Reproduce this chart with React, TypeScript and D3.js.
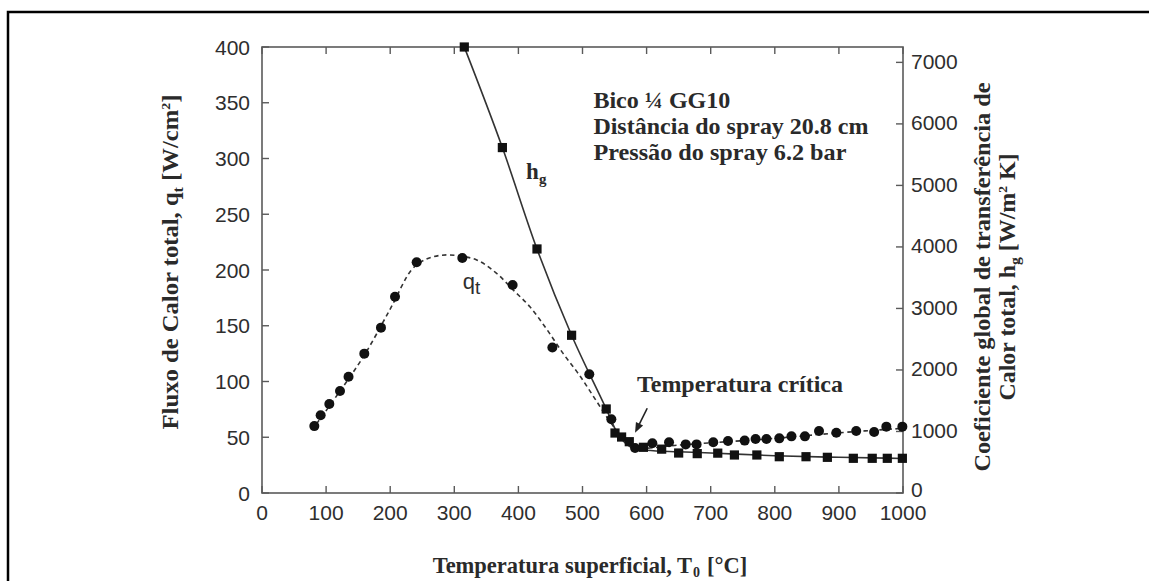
import React from "react";
import * as d3 from "d3";

// ---- data ----
const xTicks = [0, 100, 200, 300, 400, 500, 600, 700, 800, 900, 1000];
const yLeftTicks = [0, 50, 100, 150, 200, 250, 300, 350, 400];
const yRightTicks = [0, 1000, 2000, 3000, 4000, 5000, 6000, 7000];

// q_t measured points (circles, left axis)
const qT = [81.6, 91.5, 105, 121.7, 135, 159.6, 185.6, 207.5, 241.3, 312.5, 391, 453, 510.6, 545, 582, 609, 635, 661, 678, 704, 727, 753, 770, 787, 807, 826, 847, 869, 896, 927, 955, 974, 999];
const qV = [60, 69.7, 79.8, 91.5, 104.3, 125, 148.3, 176, 207, 210.8, 186.5, 130.5, 106.5, 66.2, 40.3, 44.6, 45.5, 43.6, 43.6, 45.5, 46.6, 47, 48.4, 48.4, 49, 50.8, 50.8, 55.6, 54, 55.6, 54.7, 59.5, 59.5];

// q_t fitted dashed curve
const qFitT = [85, 120, 160, 200, 233, 250, 268, 293, 335, 366, 392, 418, 444, 470, 496, 520, 543, 565, 582, 650, 700, 800, 900, 1000];
const qFitV = [62, 90, 124, 165, 200, 208, 212, 213.5, 209, 197, 182, 167, 147, 125, 105, 84, 64, 48, 41, 43, 45, 49, 54, 58];

// h_g measured points (squares, right axis)
const hT = [315.6, 375, 429, 483, 537, 550.7, 561, 573, 595, 623.5, 650, 679, 711, 737, 772, 807, 848.7, 882, 922.5, 952, 975.5, 999];
const hV = [7250, 5615, 3967, 2564, 1366, 975, 910, 834, 743, 713, 650, 640, 648, 618, 618, 590, 590, 580, 564, 564, 564, 564];

// h_g fitted solid line
const hFitT = [315.6, 375, 429, 483, 537, 555, 568, 582, 600, 650, 700, 800, 900, 1000];
const hFitV = [7250, 5615, 3967, 2564, 1366, 960, 800, 720, 695, 670, 650, 606, 580, 562];

const infoLines = ["Bico ¼ GG10", "Distância do spray 20.8 cm", "Pressão do spray 6.2 bar"];
const infoWidths = [137, 275, 253];

// ---- layout ----
const W = 1149, H = 581;
const L = 262, R = 903, T = 47, B = 493;

const x = d3.scaleLinear().domain([0, 1000]).range([L, R]);
const yL = d3.scaleLinear().domain([0, 400]).range([B, T]);
const yR = d3.scaleLinear().domain([0, 7250]).range([B, T]);

const AX = "#5a5a5a";
const TXT = "#2e2e2e";
const STXT = "#2a2a2a";
const SERIF = "'Liberation Serif', 'Times New Roman', serif";
const SANS = "'Liberation Sans', Arial, Helvetica, sans-serif";

export default function App() {
  const qLine = d3.line<number>().x((_, i) => x(qFitT[i])).y((d) => yL(d)).curve(d3.curveCatmullRom.alpha(0.5))(qFitV) || "";
  const hLine = d3.line<number>().x((_, i) => x(hFitT[i])).y((d) => yR(d)).curve(d3.curveMonotoneX)(hFitV) || "";
  const tick = 7;

  // annotation arrow (in data units, left axis)
  const a0 = [x(601), yL(76)];
  const a1 = [x(582), yL(54)];
  const ang = Math.atan2(a1[1] - a0[1], a1[0] - a0[0]);
  const hl = 10, hw = 4;
  const head = [
    [a1[0], a1[1]],
    [a1[0] - hl * Math.cos(ang) + hw * Math.sin(ang), a1[1] - hl * Math.sin(ang) - hw * Math.cos(ang)],
    [a1[0] - hl * Math.cos(ang) - hw * Math.sin(ang), a1[1] - hl * Math.sin(ang) + hw * Math.cos(ang)],
  ];

  return (
    <svg width={W} height={H} style={{ position: "absolute", left: 0, top: 0, background: "#fff" }}>
      {/* outer frame */}
      <rect x={8} y={12} width={W + 40} height={H + 40} fill="none" stroke="#000" strokeWidth={2.5} />

      {/* plot frame */}
      <rect x={L} y={T} width={R - L} height={B - T} fill="none" stroke={AX} strokeWidth={1.6} />

      {/* x ticks bottom & top */}
      {xTicks.map((v) => (
        <g key={"x" + v}>
          <line x1={x(v)} x2={x(v)} y1={B} y2={B - tick} stroke={AX} strokeWidth={1.4} />
          <line x1={x(v)} x2={x(v)} y1={T} y2={T + tick} stroke={AX} strokeWidth={1.4} />
          <text x={x(v)} y={B + 27} textAnchor="middle" fontFamily={SANS} fontSize={21} fill={TXT}>{v}</text>
        </g>
      ))}
      {/* left ticks */}
      {yLeftTicks.map((v) => (
        <g key={"l" + v}>
          <line x1={L} x2={L + tick} y1={yL(v)} y2={yL(v)} stroke={AX} strokeWidth={1.4} />
          <text x={L - 12} y={yL(v)} dy="0.36em" textAnchor="end" fontFamily={SANS} fontSize={21} fill={TXT}>{v}</text>
        </g>
      ))}
      {/* right ticks */}
      {yRightTicks.map((v) => (
        <g key={"r" + v}>
          <line x1={R} x2={R - tick} y1={yR(v)} y2={yR(v)} stroke={AX} strokeWidth={1.4} />
          <text x={R + 8} y={yR(v)} dy={v === 0 ? "0.2em" : "0.3em"} textAnchor="start" fontFamily={SANS} fontSize={21} fill={TXT}>{v}</text>
        </g>
      ))}

      {/* curves */}
      <path d={qLine} fill="none" stroke="#333" strokeWidth={1.6} strokeDasharray="4.5,3.5" />
      <path d={hLine} fill="none" stroke="#333" strokeWidth={1.6} />

      {/* markers */}
      {qT.map((t, i) => (
        <circle key={"q" + i} cx={x(t)} cy={yL(qV[i])} r={5} fill="#111" />
      ))}
      {hT.map((t, i) => (
        <rect key={"h" + i} x={x(t) - 4.6} y={yR(hV[i]) - 4.6} width={9.2} height={9.2} fill="#111" />
      ))}

      {/* series labels */}
      <text x={x(412)} y={yR(5100)} fontFamily={SERIF} fontWeight="bold" fontSize={23} fill={STXT}>
        h<tspan dy={5} fontSize={15}>g</tspan>
      </text>
      <text x={x(313)} y={yL(183)} fontFamily={SANS} fontSize={22} fill={TXT}>
        q<tspan dy={5} fontSize={19}>t</tspan>
      </text>

      {/* info block */}
      {infoLines.map((s, i) => (
        <text key={"info" + i} x={x(517)} y={yL(345.3) + i * 26} fontFamily={SERIF} fontWeight="bold" fontSize={22.5} fill={STXT}
          textLength={infoWidths[i]} lengthAdjust="spacingAndGlyphs">{s}</text>
      ))}

      {/* critical temperature annotation */}
      <text x={x(585)} y={yL(90.5)} fontFamily={SERIF} fontWeight="bold" fontSize={23} fill={STXT} textLength={206} lengthAdjust="spacingAndGlyphs">Temperatura crítica</text>
      <line x1={a0[0]} y1={a0[1]} x2={a1[0] - 6 * Math.cos(ang)} y2={a1[1] - 6 * Math.sin(ang)} stroke="#222" strokeWidth={1.6} />
      <polygon points={head.map((p) => p.join(",")).join(" ")} fill="#222" />

      {/* axis titles */}
      <text transform={`translate(178,262) rotate(-90)`} textAnchor="middle" fontFamily={SERIF} fontWeight="bold" fontSize={23} fill={STXT}
        textLength={335} lengthAdjust="spacingAndGlyphs">
        Fluxo de Calor total, q<tspan dy={5} fontSize={15}>t</tspan><tspan dy={-5}> [W/cm</tspan><tspan dy={-8} fontSize={13}>2</tspan><tspan dy={8}>]</tspan>
      </text>
      <text transform={`translate(990,277) rotate(-90)`} textAnchor="middle" fontFamily={SERIF} fontWeight="bold" fontSize={23} fill={STXT}
        textLength={389} lengthAdjust="spacingAndGlyphs">
        Coeficiente global de transferência de
      </text>
      <text transform={`translate(1015,277) rotate(-90)`} textAnchor="middle" fontFamily={SERIF} fontWeight="bold" fontSize={23} fill={STXT}
        textLength={247} lengthAdjust="spacingAndGlyphs">
        Calor total, h<tspan dy={5} fontSize={15}>g</tspan><tspan dy={-5}> [W/m</tspan><tspan dy={-8} fontSize={13}>2</tspan><tspan dy={8}> K]</tspan>
      </text>
      <text x={590} y={573} textAnchor="middle" fontFamily={SERIF} fontWeight="bold" fontSize={22.5} fill={STXT}>
        Temperatura superficial, T<tspan dx={1} dy={4} fontSize={14}>0</tspan><tspan dx={7} dy={-4}>[°C]</tspan>
      </text>
    </svg>
  );
}
